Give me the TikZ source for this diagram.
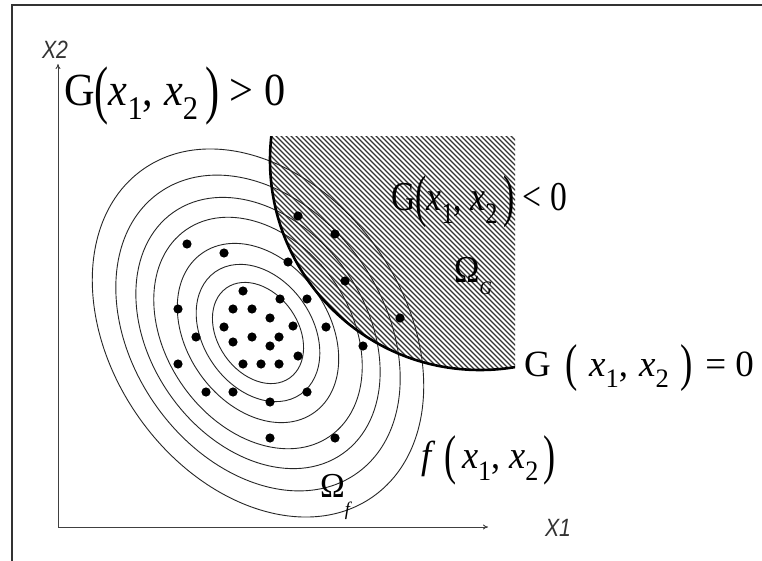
\documentclass[tikz,border=0pt]{standalone}
\usepackage{fontspec}
\setmainfont{Liberation Serif}
\newfontfamily\axfont{Liberation Sans}
\usepackage{graphicx}
\usetikzlibrary{arrows.meta}
\newcommand\lsub[1]{\raisebox{-0.3em}{\scalebox{0.72}{#1}}}
\newcommand\bpar[1]{\raisebox{-0.12em}{\scalebox{1}[1.4]{#1}}}
\newcommand\cond[2]{\scalebox{#1}[1]{#2}}
\begin{document}
\begin{tikzpicture}[x=1pt,y=-1pt,
  frameline/.style={line width=2pt,black!80},
  axisline/.style={line width=0.9pt,black!75,-{To[length=5pt,width=5pt]}},
  contour/.style={line width=0.9pt,black!85},
  hatchline/.style={line width=1.1pt,black!80},
  boundary/.style={line width=2.6pt,black},
  dot/.style={fill=black},
  lbl/.style={inner sep=0pt,anchor=west},
  axlbl/.style={inner sep=0pt,font=\axfont\itshape\fontsize{25}{26}\selectfont,black!80}]
\useasboundingbox (0,0) rectangle (762,561);
\fill[white] (0,0) rectangle (762,561);
% frame
\coordinate (f1) at (763,5);
\coordinate (f2) at (12,5);
\coordinate (f3) at (12,562);
\draw[frameline] (f1) -- (f2) -- (f3);
% hatched region
\begin{scope}
  \clip (265,137) rectangle (515,380);
  \clip (480,160) circle [radius=210pt];
  \foreach \c in {-395,-390,...,115} \draw[hatchline] (250,250+\c) -- (540,540+\c);
\end{scope}
% contours
\foreach \s in {0.275,0.373,0.487,0.629,0.737,0.858,1}
  \draw[contour, rotate around={-55:(258,333)}] (258,333) ellipse [x radius={\s*200pt}, y radius={\s*146pt}];
% boundary arc
\begin{scope}
  \clip (255,137) rectangle (515,380);
  \draw[boundary] (480,160) circle [radius=210pt];
\end{scope}
% dots
\foreach \p in {(187,244),(224,253),(288,262),(298,216),(335,234),(345,281),(243,291),(280,299),(307,299),(233,309),(252,309),(178,309),(270,318),(293,326),(326,327),(224,327),(196,337),(252,337),(279,337),(233,342),(270,346),(298,356),(363,346),(178,364),(243,364),(261,364),(279,364),(206,392),(233,392),(307,392),(270,402),(270,438),(335,438),(400,318)}
  \fill[dot] \p circle [radius=4.6pt];
% axes
\coordinate (O) at (58,527);
\coordinate (Ytip) at (58,64);
\coordinate (Xtip) at (488,527);
\draw[axisline] (O) -- (Ytip);
\draw[axisline] (O) -- (Xtip);
\node[axlbl] (x2) at (55,50) {\cond{0.85}{X2}};
\node[axlbl] (x1) at (558,528) {\cond{0.85}{X1}};
% labels
\node[lbl,font=\fontsize{46}{48}\selectfont] (gpos) at (64,96) {\cond{0.92}{G\bpar{(}\textit{x}\lsub{1}, \textit{x}\lsub{2}\,\bpar{)} > 0}};
\node[lbl,font=\fontsize{41}{43}\selectfont] (gneg) at (391,202) {\cond{0.82}{G\bpar{(}\textit{x}\lsub{1}, \textit{x}\lsub{2}\,\bpar{)} < 0}};
\node[font=\fontsize{38}{40}\selectfont,inner sep=0pt] (omg) at (473,276) {\cond{0.9}{Ω\raisebox{-0.3em}{\scalebox{0.5}{\textit{G}}}}};
\node[lbl,font=\fontsize{37}{39}\selectfont] (gzero) at (524,368) {G\hspace{0.4em}\bpar{(}\hspace{0.3em}\textit{x}\lsub{1},\hspace{0.3em}\textit{x}\lsub{2}\hspace{0.3em}\bpar{)}\hspace{0.1em} = 0};
\node[lbl,font=\fontsize{39}{41}\selectfont] (fx) at (421,460) {\cond{0.93}{\textit{f}\hspace{0.25em}\bpar{(}\hspace{0.15em}\textit{x}\lsub{1}, \textit{x}\lsub{2}\hspace{0.15em}\bpar{)}}};
\node[font=\fontsize{35}{37}\selectfont,inner sep=0pt] (omf) at (336,497) {\cond{0.95}{Ω\raisebox{-0.5em}{\scalebox{0.55}{\textit{f}}}}};
\end{tikzpicture}
\end{document}
